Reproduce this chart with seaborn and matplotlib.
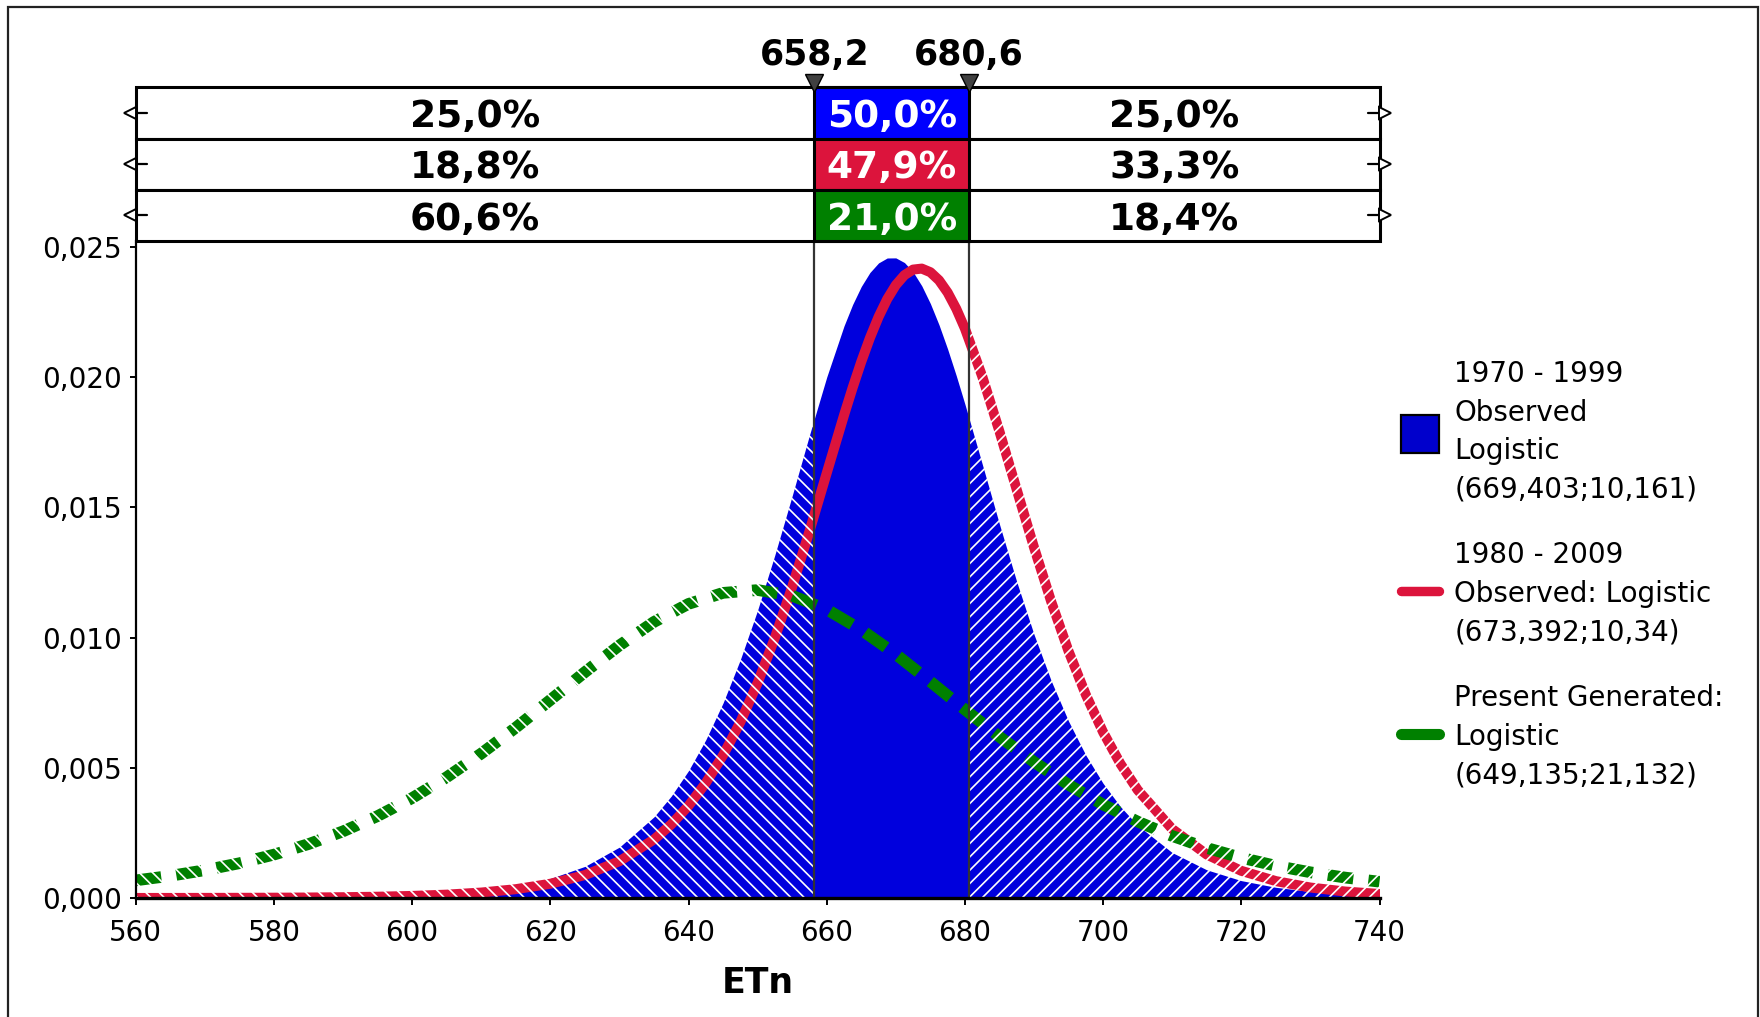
"""
Logistic fits of ETn for two observed periods and the generated present-day
series, with the 658,2 / 680,6 band and the share of each curve per band.
"""

import matplotlib

matplotlib.use("Agg")
import matplotlib.pyplot as plt
import pandas as pd
import seaborn as sns
from matplotlib.lines import Line2D
from matplotlib.patches import Patch, Rectangle
from matplotlib.ticker import FuncFormatter

# --- data ---------------------------------------------------------------------
X_FINE = [560, 565, 570, 575, 580, 585, 590, 595, 600, 605, 610, 615, 620, 625,
          630, 635, 637.5, 640, 642.5, 645, 647.5, 650, 652.5, 655, 657.5, 660,
          662.5, 663.75, 665, 666.25, 667.5, 668.75, 670, 671.25, 672.5, 673.75,
          675, 676.25, 677.5, 678.75, 680, 682.5, 685, 687.5, 690, 692.5, 695,
          697.5, 700, 702.5, 705, 710, 715, 720, 725, 730, 735, 740]

BLUE_PDF = [0.0000021, 0.0000034, 0.0000056, 0.0000091, 0.0000148, 0.0000243,
            0.0000396, 0.0000648, 0.0001061, 0.0001733, 0.0002829, 0.000461,
            0.000749, 0.001214, 0.001955, 0.003116, 0.003915, 0.004891, 0.006079,
            0.007494, 0.009156, 0.011058, 0.013181, 0.015447, 0.017776, 0.020007,
            0.021970, 0.022794, 0.023485, 0.024021, 0.024389, 0.024578, 0.024582,
            0.024402, 0.024041, 0.023511, 0.022827, 0.022010, 0.021077, 0.020054,
            0.018962, 0.016668, 0.014351, 0.012142, 0.010120, 0.008331, 0.006788,
            0.005484, 0.004401, 0.003512, 0.002790, 0.001744, 0.001082, 0.000667,
            0.000410, 0.000251, 0.000154, 0.0000943]

RED_PDF = [0.0000017, 0.0000027, 0.0000044, 0.0000071, 0.0000116, 0.0000187,
           0.0000304, 0.0000493, 0.0000798, 0.0001292, 0.0002094, 0.0003386,
           0.0005469, 0.000881, 0.001412, 0.002249, 0.002827, 0.003543, 0.004420,
           0.005483, 0.006758, 0.008261, 0.009997, 0.011953, 0.014086, 0.016321,
           0.018541, 0.019600, 0.020596, 0.021509, 0.022317, 0.023000, 0.023539,
           0.023921, 0.024133, 0.024171, 0.024032, 0.023722, 0.023249, 0.022625,
           0.021867, 0.020034, 0.017915, 0.015677, 0.013462, 0.011371, 0.009476,
           0.007805, 0.006368, 0.005157, 0.004149, 0.002649, 0.001669, 0.001043,
           0.000649, 0.000402, 0.000249, 0.000154]

X_GREEN = [560, 565, 570, 575, 580, 585, 590, 595, 600, 605, 610, 615, 620, 625,
           630, 635, 640, 645, 650, 655, 660, 665, 670, 675, 680, 685, 690, 695,
           700, 705, 710, 715, 720, 725, 730, 735, 740]

GREEN_PDF = [0.000677, 0.000851, 0.001068, 0.001336, 0.001667, 0.002071,
             0.002561, 0.003147, 0.003839, 0.004640, 0.005548, 0.006544,
             0.007606, 0.008674, 0.009702, 0.010603, 0.011295, 0.011718,
             0.011826, 0.011606, 0.011082, 0.010299, 0.009358, 0.008309,
             0.007235, 0.006192, 0.005223, 0.004350, 0.003587, 0.002933,
             0.002381, 0.001922, 0.001545, 0.001237, 0.000987, 0.000786,
             0.000625]

Q_LOW, Q_HIGH = 658.2, 680.6

LEFT_PCT = ["25,0%", "18,8%", "60,6%"]
MID_PCT = ["50,0%", "47,9%", "21,0%"]
RIGHT_PCT = ["25,0%", "33,3%", "18,4%"]

LEGEND_LABELS = [
    "1970 - 1999\nObserved\nLogistic\n(669,403;10,161)",
    "1980 - 2009\nObserved: Logistic\n(673,392;10,34)",
    "Present Generated:\nLogistic\n(649,135;21,132)",
]

X_TICKS = [560, 580, 600, 620, 640, 660, 680, 700, 720, 740]
Y_TICKS = [0.000, 0.005, 0.010, 0.015, 0.020, 0.025]

BLUE = "#0000DD"
RED = "#DC143C"
GREEN = "#008000"
MID_COLORS = ["#0000FF", RED, GREEN]

# --- styling ------------------------------------------------------------------
sns.set_theme(style="ticks")
plt.rcParams["font.family"] = ["DejaVu Sans"]
plt.rcParams["hatch.linewidth"] = 0.6

W, H = 1760, 1017
fig = plt.figure(figsize=(W / 200, H / 200), dpi=200)

left, right = 135.8 / W, 1379.5 / W
ax = fig.add_axes([left, 1 - 898 / H, right - left, (898 - 241) / H])
ax_t = fig.add_axes([left, 1 - 241 / H, right - left, (241 - 87.5) / H])

ymax = 0.025 * 657 / 651
ax.set_xlim(560, 740)
ax.set_ylim(0, ymax)

df = pd.DataFrame({"ETn": X_FINE, "blue": BLUE_PDF, "red": RED_PDF})
df_g = pd.DataFrame({"ETn": X_GREEN, "green": GREEN_PDF})

ax.fill_between(df["ETn"], df["blue"], color=BLUE, lw=0, zorder=1)
sns.lineplot(data=df, x="ETn", y="red", color=RED, lw=3.6, sort=False,
             estimator=None, ax=ax, zorder=2, solid_joinstyle="round")
sns.lineplot(data=df_g, x="ETn", y="green", color=GREEN, lw=4.2, sort=False,
             estimator=None, ax=ax, zorder=2.1, linestyle=(0, (2.2, 1.3)),
             dash_capstyle="butt")

# white hatching over everything outside the band
ax.add_patch(Rectangle((560, 0), Q_LOW - 560, ymax, fill=False, ec="white",
                       lw=0, hatch="\\\\\\\\\\", zorder=2.3))
ax.add_patch(Rectangle((Q_HIGH, 0), 740 - Q_HIGH, ymax, fill=False, ec="white",
                       lw=0, hatch="/////", zorder=2.3))

for q in (Q_LOW, Q_HIGH):
    ax.axvline(q, color="#333333", lw=0.8, zorder=3)

for side in ("top", "right"):
    ax.spines[side].set_visible(False)
ax.spines["left"].set_linewidth(0.8)
ax.spines["bottom"].set_linewidth(1.2)
for side in ("left", "bottom"):
    ax.spines[side].set_color("black")
    ax.spines[side].set_zorder(4)

ax.set_xticks(X_TICKS)
ax.set_yticks(Y_TICKS)
ax.yaxis.set_major_formatter(FuncFormatter(lambda v, _: f"{v:.3f}".replace(".", ",")))
ax.tick_params(axis="x", length=2.4, width=0.7, pad=5, labelsize=10, colors="black")
ax.tick_params(axis="y", length=2.0, width=0.7, pad=3, labelsize=10, colors="black")
ax.set_xlabel("ETn", fontsize=12.5, fontweight="bold", labelpad=7, color="black")
ax.set_ylabel("")
ax.grid(False)

# --- table above the plot -----------------------------------------------------
ax_t.set_xlim(560, 740)
ax_t.set_ylim(0, 3)
ax_t.axis("off")

for i, (lt, mt, rt, col) in enumerate(zip(LEFT_PCT, MID_PCT, RIGHT_PCT, MID_COLORS)):
    y0 = 2 - i
    ty = y0 + 0.42
    ax_t.add_patch(Rectangle((560, y0), 180, 1, fc="white", ec="black",
                             lw=1.1, clip_on=False))
    ax_t.add_patch(Rectangle((Q_LOW, y0), Q_HIGH - Q_LOW, 1, fc=col, ec="black",
                             lw=1.1, clip_on=False, zorder=2))
    ax_t.text((560 + Q_LOW) / 2, ty, lt, ha="center", va="center",
              fontsize=13.5, fontweight="bold", color="black")
    ax_t.text((Q_LOW + Q_HIGH) / 2, ty, mt, ha="center", va="center",
              fontsize=13.5, fontweight="bold", color="white", zorder=3)
    ax_t.text((Q_HIGH + 740) / 2, ty, rt, ha="center", va="center",
              fontsize=13.5, fontweight="bold", color="black")
    # little arrow heads on the table edges
    ax_t.plot([560, 561.6], [y0 + 0.5] * 2, color="black", lw=0.8, clip_on=False)
    ax_t.plot([559.2], [y0 + 0.5], marker="<", ms=4, mfc="white", mec="black",
              mew=0.7, clip_on=False)
    ax_t.plot([738.4, 740], [y0 + 0.5] * 2, color="black", lw=0.8, clip_on=False)
    ax_t.plot([740.8], [y0 + 0.5], marker=">", ms=4, mfc="white", mec="black",
              mew=0.7, clip_on=False)

for q in (Q_LOW, Q_HIGH):
    ax_t.plot([q], [3.08], marker="v", ms=6.5, mfc="#404040", mec="black",
              mew=0.5, clip_on=False, zorder=4)
    ax_t.text(q, 3.64, f"{q:.1f}".replace(".", ","), ha="center", va="center",
              fontsize=12.5, fontweight="bold", color="black")

# --- legend -------------------------------------------------------------------
handles = [
    Patch(facecolor="#0000CC", edgecolor="black", lw=0.8),
    Line2D([], [], color=RED, lw=3.4),
    Line2D([], [], color=GREEN, lw=4.0, solid_capstyle="round"),
]
leg = fig.legend(handles, LEGEND_LABELS, loc="upper left",
                 bbox_to_anchor=(1401 / W, 1 - 360 / H), frameon=False,
                 fontsize=10, borderpad=0, borderaxespad=0, handlelength=1.37,
                 handleheight=1.75, handletextpad=0.55, labelspacing=1.36)
for t in leg.get_texts():
    t.set_color("black")
    t.set_linespacing(1.48)

# outer frame of the picture
fig.add_artist(Rectangle((8 / W, -0.05), (1758 - 8) / W, 1 - 7 / H + 0.05,
                         transform=fig.transFigure, fill=False, ec="#222222",
                         lw=0.8))

fig.savefig("out.png", dpi=200, facecolor="white")
